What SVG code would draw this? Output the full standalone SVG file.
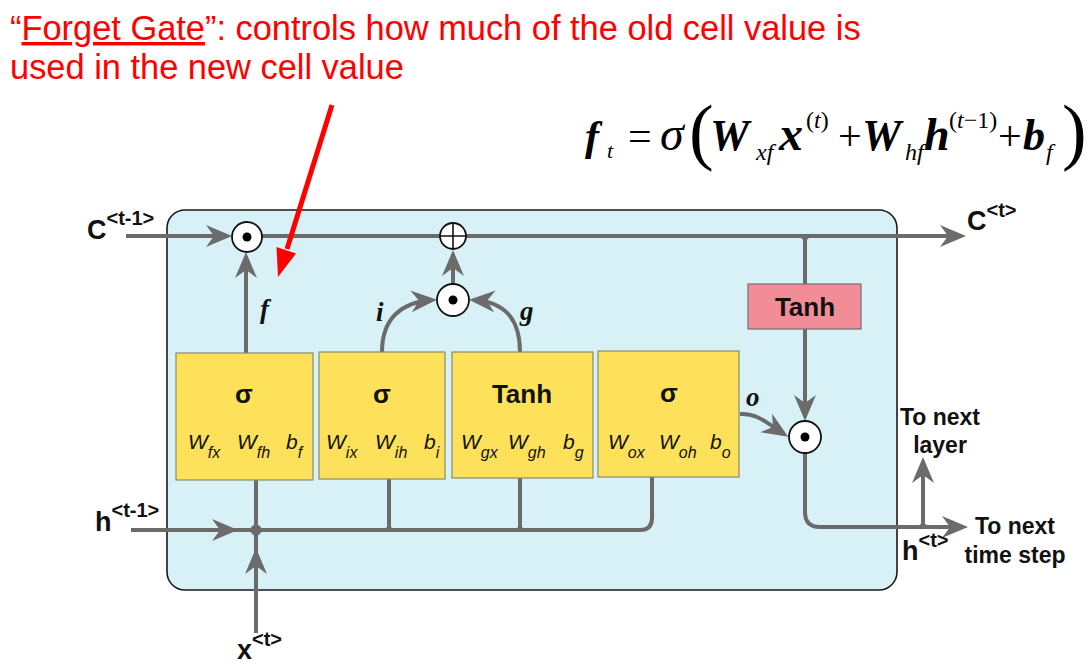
<svg xmlns="http://www.w3.org/2000/svg" width="1092" height="667" viewBox="0 0 1092 667">
<style>
.conn{fill:none;stroke:#6b6b6b;stroke-width:4}
.fil{fill:#6b6b6b;stroke:none}
.ybox{fill:#fde15a;stroke:#8a8a6a;stroke-width:1.2}
.op{fill:#ffffff;stroke:#111;stroke-width:1.8}
.lbl{font-family:"Liberation Sans",Arial,sans-serif;font-weight:bold;fill:#111}
.w{font-family:"Liberation Sans",Arial,sans-serif;font-style:italic;font-size:21px;fill:#111}
.ws{font-size:16px}
.gl{font-family:"Liberation Serif","Times New Roman",serif;font-style:italic;font-weight:bold;font-size:27px;fill:#111}
.eq{font-family:"Liberation Serif","Times New Roman",serif;fill:#000}
.red{font-family:"Liberation Sans",Arial,sans-serif;font-size:34.4px;fill:#ff0000}
</style>
<defs>
<marker id="ah" markerUnits="userSpaceOnUse" markerWidth="28" markerHeight="24" refX="21" refY="11" orient="auto">
<path d="M26,11 L0,0 L8,11 L0,22 Z" fill="#6b6b6b"/>
</marker>
</defs>

<g id="title">
<text class="red" x="10" y="40">“<tspan text-decoration="underline">Forget Gate</tspan>”: controls how much of the old cell value is</text>
<text class="red" x="10" y="79">used in the new cell value</text>
</g>

<g id="equation" class="eq">
<text x="585" y="150" font-size="42" font-style="italic" font-weight="bold">f</text>
<text x="607" y="158" font-size="22" font-style="italic">t</text>
<text x="628" y="150" font-size="42">=</text>
<text x="660" y="150" font-size="48" font-style="italic">σ</text>
<text x="689" y="156" font-size="74">(</text>
<text x="710" y="150" font-size="44" font-style="italic" font-weight="bold">W</text>
<text x="756" y="160" font-size="24" font-style="italic">xf</text>
<text x="779" y="150" font-size="48" font-style="italic" font-weight="bold">x</text>
<text x="806" y="128" font-size="24">(<tspan font-style="italic">t</tspan>)</text>
<text x="838" y="150" font-size="42">+</text>
<text x="862" y="150" font-size="44" font-style="italic" font-weight="bold">W</text>
<text x="905" y="160" font-size="24" font-style="italic">hf</text>
<text x="924" y="150" font-size="46" font-style="italic" font-weight="bold">h</text>
<text x="949" y="128" font-size="24">(<tspan font-style="italic">t</tspan>−1)</text>
<text x="998" y="150" font-size="42">+</text>
<text x="1023" y="150" font-size="44" font-style="italic" font-weight="bold">b</text>
<text x="1046" y="160" font-size="24" font-style="italic">f</text>
<text x="1062" y="156" font-size="74">)</text>
</g>

<g id="cell">
<rect x="167" y="210" width="730" height="380" rx="18" fill="#d8f1f7" stroke="#1a1a1a" stroke-width="1.6"/>
</g>

<g id="connectors">
<path class="conn" d="M126,236 L227,236" marker-end="url(#ah)"/>
<path class="conn" d="M262,236 L440,236"/>
<path class="conn" d="M466,236 L961,236" marker-end="url(#ah)"/>
<path class="fil" d="M797,236 Q805,238 805,247 Q805,238 813,236 Z"/>
<path class="conn" d="M246,353 L246,257" marker-end="url(#ah)"/>
<path class="conn" d="M453,284 L453,255" marker-end="url(#ah)"/>
<path class="conn" d="M382,352 C382,318 402,302 432,300" marker-end="url(#ah)"/>
<path class="conn" d="M520,352 C520,318 504,302 474,300" marker-end="url(#ah)"/>
<path class="conn" d="M805,236 L805,284"/>
<path class="conn" d="M805,329 L805,416" marker-end="url(#ah)"/>
<path class="conn" d="M740,414 C758,413 768,424 784,434" marker-end="url(#ah)"/>
<path class="conn" d="M805,453 L805,512 Q805,527 820,527 L963,527" marker-end="url(#ah)"/>
<path class="conn" d="M923,527 L923,462" marker-end="url(#ah)"/>
<path class="fil" d="M915,527 Q923,525 923,517 Q923,525 931,527 Z"/>
<path class="conn" d="M131,530 L233,530" marker-end="url(#ah)"/>
<path class="conn" d="M233,530 L640,530 Q652,530 652,518 L652,477"/>
<path class="conn" d="M256,633 L256,553" marker-end="url(#ah)"/>
<path class="conn" d="M256,553 L256,480"/>
<circle class="fil" cx="256" cy="530" r="5.5"/>
<path class="conn" d="M389,530 L389,479"/>
<path class="conn" d="M520,530 L520,478"/>
<path class="fil" d="M382,530 Q389,528 389,520 Q389,528 396,530 Z"/>
<path class="fil" d="M513,530 Q520,528 520,520 Q520,528 527,530 Z"/>
</g>

<g id="forget-mult">
<circle class="op" cx="247" cy="237" r="15"/>
<circle cx="247" cy="237" r="4.5" fill="#000"/>
</g>
<g id="add">
<circle class="op" cx="453" cy="236" r="13"/>
<path d="M440,236 H466 M453,223 V249" stroke="#111" stroke-width="1.6"/>
</g>
<g id="input-mult">
<circle class="op" cx="453" cy="300" r="16"/>
<circle cx="453" cy="300" r="4.5" fill="#000"/>
</g>
<g id="output-mult">
<circle class="op" cx="805" cy="437" r="16"/>
<circle cx="805" cy="437" r="4.5" fill="#000"/>
</g>

<g id="tanh-out">
<rect x="748" y="284" width="113" height="45" fill="#f28c96" stroke="#6f6f6f" stroke-width="1.2"/>
<text class="lbl" x="805" y="316" font-size="26" text-anchor="middle">Tanh</text>
</g>

<g id="gate-f">
<rect class="ybox" x="176" y="353" width="137" height="127"/>
<text class="lbl" x="244" y="403" font-size="26" text-anchor="middle">σ</text>
<text class="w" x="188" y="449">W<tspan class="ws" dy="9">fx</tspan></text>
<text class="w" x="237" y="449">W<tspan class="ws" dy="9">fh</tspan></text>
<text class="w" x="286" y="449">b<tspan class="ws" dy="9">f</tspan></text>
</g>
<g id="gate-i">
<rect class="ybox" x="319" y="352" width="126" height="127"/>
<text class="lbl" x="382" y="403" font-size="26" text-anchor="middle">σ</text>
<text class="w" x="326" y="449">W<tspan class="ws" dy="9">ix</tspan></text>
<text class="w" x="375" y="449">W<tspan class="ws" dy="9">ih</tspan></text>
<text class="w" x="424" y="449">b<tspan class="ws" dy="9">i</tspan></text>
</g>
<g id="gate-g">
<rect class="ybox" x="452" y="352" width="141" height="126"/>
<text class="lbl" x="522" y="403" font-size="26" text-anchor="middle">Tanh</text>
<text class="w" x="461" y="449">W<tspan class="ws" dy="9">gx</tspan></text>
<text class="w" x="508" y="449">W<tspan class="ws" dy="9">gh</tspan></text>
<text class="w" x="563" y="449">b<tspan class="ws" dy="9">g</tspan></text>
</g>
<g id="gate-o">
<rect class="ybox" x="598" y="351" width="141" height="126"/>
<text class="lbl" x="669" y="402" font-size="26" text-anchor="middle">σ</text>
<text class="w" x="608" y="449">W<tspan class="ws" dy="9">ox</tspan></text>
<text class="w" x="659" y="449">W<tspan class="ws" dy="9">oh</tspan></text>
<text class="w" x="710" y="449">b<tspan class="ws" dy="9">o</tspan></text>
</g>

<g id="gate-labels">
<text class="gl" x="260" y="318">f</text>
<text class="gl" x="376" y="321">i</text>
<text class="gl" x="520" y="320">g</text>
<text class="gl" x="746" y="406">o</text>
</g>

<g id="io-labels">
<text class="lbl" x="87" y="239" font-size="27">C<tspan font-size="20" dy="-14">&lt;t-1&gt;</tspan></text>
<text class="lbl" x="967" y="230" font-size="27">C<tspan font-size="20" dy="-13">&lt;t&gt;</tspan></text>
<text class="lbl" x="95" y="531" font-size="27">h<tspan font-size="20" dy="-14">&lt;t-1&gt;</tspan></text>
<text class="lbl" x="237" y="659" font-size="27">x<tspan font-size="20" dy="-13">&lt;t&gt;</tspan></text>
<text class="lbl" x="902" y="560" font-size="27">h<tspan font-size="20" dy="-13">&lt;t&gt;</tspan></text>
<text class="lbl" x="940" y="425" font-size="23" text-anchor="middle">To next</text>
<text class="lbl" x="940" y="453" font-size="23" text-anchor="middle">layer</text>
<text class="lbl" x="1015" y="534" font-size="23" text-anchor="middle">To next</text>
<text class="lbl" x="1015" y="563" font-size="23" text-anchor="middle">time step</text>
</g>

<g id="red-arrow">
<line x1="332" y1="105" x2="287" y2="249" stroke="#ff0000" stroke-width="5"/>
<path d="M278,277 L276.5,247 L296,253.5 Z" fill="#ff0000"/>
</g>
</svg>
